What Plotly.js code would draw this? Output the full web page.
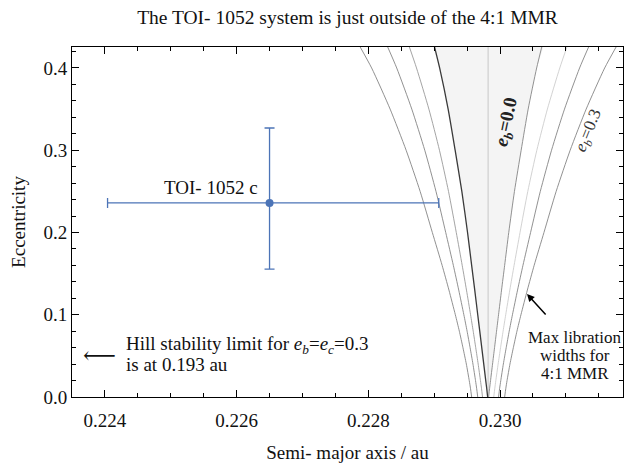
<!DOCTYPE html>
<html>
<head>
<meta charset="utf-8">
<script src="https://cdn.plot.ly/plotly-3.0.1.min.js"></script>
<style>
  html, body { margin: 0; padding: 0; background: #fff; }
  #chart { width: 636px; height: 466px; }
</style>
</head>
<body>
<div id="chart"></div>
<script>
// Nominal location of the 4:1 mean-motion resonance (au)
const resonanceCentre = 0.22982;

// Eccentricity grid along which the libration half-widths are tabulated
const eccGrid = [0, 0.01, 0.02, 0.04, 0.06, 0.08, 0.1, 0.13, 0.16, 0.2, 0.25, 0.3, 0.35, 0.4, 0.43];

// Maximum libration half-widths (au) for inner-planet eccentricities e_b = 0.0, 0.1, 0.2, 0.3
const halfWidthEb00 = [0.0000076, 0.0000213, 0.0000365, 0.0000668, 0.0000972, 0.0001276, 0.0001580, 0.0002035, 0.0002506, 0.0003129, 0.0003995, 0.0005013, 0.0006076, 0.0007367, 0.0008279];
const halfWidthEb01 = [0.0000854, 0.0001000, 0.0001167, 0.0001514, 0.0001887, 0.0002268, 0.0002669, 0.0003290, 0.0003940, 0.0004840, 0.0006021, 0.0007394, 0.0008999, 0.0010879, 0.0012155];
const halfWidthEb02 = [0.0001583, 0.0001738, 0.0001918, 0.0002307, 0.0002743, 0.0003197, 0.0003690, 0.0004466, 0.0005285, 0.0006444, 0.0007922, 0.0009627, 0.0011596, 0.0013887, 0.0015505];
const halfWidthEb03 = [0.0002506, 0.0002673, 0.0002871, 0.0003311, 0.0003828, 0.0004375, 0.0004982, 0.0005954, 0.0006987, 0.0008476, 0.0010329, 0.0012456, 0.0014886, 0.0017696, 0.0019747];

// Outer planet: semi-major axis and eccentricity with asymmetric uncertainties
const planetName = 'TOI- 1052 c';
const planetA = [0.2265];
const planetAErrMinus = [0.00246];
const planetAErrPlus = [0.00257];
const planetE = [0.236];
const planetEErrMinus = [0.0805];
const planetEErrPlus = [0.091];

// Axis ticks
const xTickStart = 0.224, xTickStep = 0.002, xMinorStep = 0.0005;
const yTickStep = 0.1, yMinorStep = 0.02;

// Text blocks, one entry per line
const hillLines = ['Hill stability limit for <i>e</i><sub><i>b</i></sub>=<i>e</i><sub><i>c</i></sub>=0.3', 'is at 0.193 au'];
const librationLines = ['Max libration', 'widths for', '4:1 MMR'];

const FONT = 'Liberation Serif';
const INK = '#111';

const leftEdge = w => eccGrid.map((_, i) => resonanceCentre - w[i]);
const rightEdge = w => eccGrid.map((_, i) => resonanceCentre + w[i]);

function boundary(w, side, color, width) {
  return {
    x: side < 0 ? leftEdge(w) : rightEdge(w),
    y: eccGrid,
    mode: 'lines',
    line: { color: color, width: width, shape: 'spline', smoothing: 0.6 },
    hoverinfo: 'skip',
    showlegend: false
  };
}

const traces = [];

// Shaded band between the e_b = 0 boundaries
traces.push({
  x: leftEdge(halfWidthEb00).concat(rightEdge(halfWidthEb00).slice().reverse()),
  y: eccGrid.concat(eccGrid.slice().reverse()),
  mode: 'lines',
  fill: 'toself',
  fillcolor: '#f4f4f4',
  line: { width: 0, shape: 'spline', smoothing: 0.6 },
  hoverinfo: 'skip',
  showlegend: false
});

// Nominal resonance line
traces.push({
  x: [resonanceCentre, resonanceCentre],
  y: [0, eccGrid[eccGrid.length - 1]],
  mode: 'lines',
  line: { color: '#d6d6d6', width: 1.5 },
  hoverinfo: 'skip',
  showlegend: false
});

// Libration-width boundaries
traces.push(boundary(halfWidthEb03, -1, '#858585', 0.9));
traces.push(boundary(halfWidthEb02, -1, '#858585', 0.9));
traces.push(boundary(halfWidthEb01, -1, '#9a9a9a', 0.9));
traces.push(boundary(halfWidthEb00, -1, '#3a3a3a', 1.3));
traces.push(boundary(halfWidthEb00, 1, '#858585', 0.9));
traces.push(boundary(halfWidthEb01, 1, '#cdcdcd', 0.9));
traces.push(boundary(halfWidthEb02, 1, '#858585', 0.9));
traces.push(boundary(halfWidthEb03, 1, '#858585', 0.9));

// The planet with its error bars
traces.push({
  x: planetA,
  y: planetE,
  mode: 'markers',
  marker: { color: '#4c74b7', size: 8 },
  error_x: { type: 'data', symmetric: false, array: planetAErrPlus, arrayminus: planetAErrMinus,
             color: '#4c74b7', thickness: 1.3, width: 5 },
  error_y: { type: 'data', symmetric: false, array: planetEErrPlus, arrayminus: planetEErrMinus,
             color: '#4c74b7', thickness: 1.3, width: 5 },
  hoverinfo: 'skip',
  showlegend: false
});

const axisCommon = {
  showline: true, linecolor: '#000', linewidth: 1,
  mirror: 'allticks', ticks: 'inside', ticklen: 7, tickwidth: 1, tickcolor: '#000',
  showgrid: false, zeroline: false,
  tickfont: { family: FONT, size: 19, color: INK },
  automargin: false
};

const annotations = [
  { x: 0.226354, y: 0.2553, xref: 'x', yref: 'y', text: planetName, showarrow: false,
    xanchor: 'right', yanchor: 'middle', font: { family: FONT, size: 19, color: INK } },
  { x: 0.223924, y: 0.0505, xref: 'x', yref: 'y', text: '⟵', showarrow: false,
    xanchor: 'center', yanchor: 'middle', font: { family: 'DejaVu Serif', size: 23, color: INK } },
  { x: 0.230410, y: 0.1252, xref: 'x', yref: 'y', text: '', showarrow: true,
    ax: 20, ay: 22, arrowhead: 2, arrowsize: 1, arrowwidth: 1.5, arrowcolor: '#000' },
  { x: 0.230106, y: 0.3343, xref: 'x', yref: 'y', showarrow: false, textangle: -78,
    text: '<b><i>e</i><sub><i>b</i></sub>=0.0</b>', font: { family: FONT, size: 19, color: '#222' } },
  { x: 0.231352, y: 0.3234, xref: 'x', yref: 'y', showarrow: false, textangle: -68,
    text: '<i>e</i><sub><i>b</i></sub>=0.3', font: { family: FONT, size: 17, color: '#333' } }
];

const hillY = [0.0633, 0.0395];
hillLines.forEach((t, i) => annotations.push({
  x: 0.224304, y: hillY[i], xref: 'x', yref: 'y', xanchor: 'left', yanchor: 'middle',
  text: t, showarrow: false, borderpad: 0, font: { family: FONT, size: 19, color: INK }
}));

const librationY = [0.0729, 0.0508, 0.0287];
librationLines.forEach((t, i) => annotations.push({
  x: 0.231139, y: librationY[i], xref: 'x', yref: 'y', xanchor: 'center', yanchor: 'middle',
  text: t, showarrow: false, borderpad: 0, font: { family: FONT, size: 17, color: INK }
}));

const layout = {
  width: 636, height: 466,
  margin: { l: 72, r: 13, t: 47, b: 69 },
  paper_bgcolor: '#fff', plot_bgcolor: '#fff',
  font: { family: FONT, color: INK },
  title: {
    text: 'The TOI- 1052 system is just outside of the 4:1 MMR',
    font: { family: FONT, size: 19.5, color: INK },
    x: 0.5, xref: 'paper', y: 0.963, yref: 'container', yanchor: 'middle'
  },
  xaxis: Object.assign({}, axisCommon, {
    range: [0.2235, 0.231868],
    tick0: xTickStart, dtick: xTickStep, tickformat: '.3f',
    ticklabelstandoff: 6,
    minor: { dtick: xMinorStep, tick0: xTickStart, ticks: 'inside', ticklen: 4, tickcolor: '#000' },
    title: { text: 'Semi- major axis / au', font: { family: FONT, size: 19, color: INK }, standoff: 15 }
  }),
  yaxis: Object.assign({}, axisCommon, {
    range: [0, 0.4255],
    tick0: 0, dtick: yTickStep, tickformat: '.1f',
    minor: { dtick: yMinorStep, tick0: 0, ticks: 'inside', ticklen: 4, tickcolor: '#000' },
    title: { text: 'Eccentricity', font: { family: FONT, size: 19, color: INK }, standoff: 12 }
  }),
  annotations: annotations
};

Plotly.newPlot('chart', traces, layout, { staticPlot: true, displayModeBar: false });
</script>
</body>
</html>
